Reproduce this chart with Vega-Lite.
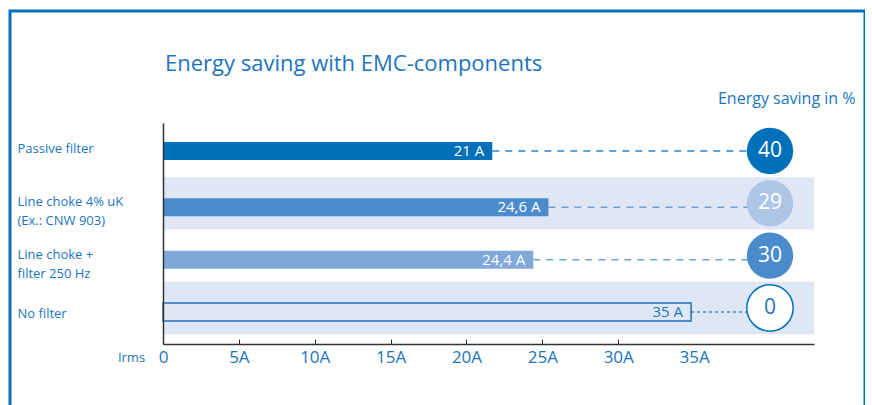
{
  "$schema": "https://vega.github.io/schema/vega-lite/v6.json",
  "width": 855,
  "height": 400,
  "autosize": {"type": "none"},
  "padding": {"left": 10, "top": 11, "right": 0, "bottom": 0},
  "background": "#ffffff",
  "config": {
    "font": "Open Sans",
    "view": {"stroke": "#0070BA", "strokeWidth": 3}
  },
  "title": {
    "text": "Energy saving with EMC-components",
    "anchor": "start",
    "frame": "group",
    "dx": 155,
    "dy": 75,
    "offset": 0,
    "baseline": "middle",
    "fontSize": 22,
    "fontWeight": "normal",
    "color": "#1C75BC"
  },
  "data": {
    "values": [
      {"row": "Passive filter", "irms": 21.7, "label": "21 A", "saving": 40},
      {"row": "Line choke 4% uK\n(Ex.: CNW 903)", "irms": 25.4, "label": "24,6 A", "saving": 29},
      {"row": "Line choke +\nfilter 250 Hz", "irms": 24.4, "label": "24,4 A", "saving": 30},
      {"row": "No filter", "irms": 34.8, "label": "35 A", "saving": 0}
    ]
  },
  "encoding": {
    "y": {
      "field": "row",
      "type": "nominal",
      "sort": null,
      "scale": {
        "domain": ["Passive filter", "Line choke 4% uK\n(Ex.: CNW 903)", "Line choke +\nfilter 250 Hz", "No filter"],
        "range": [112, 333],
        "paddingInner": 0,
        "paddingOuter": 0.1116,
        "align": 0.155
      },
      "axis": {
        "orient": "left",
        "offset": -153,
        "domainColor": "#333333",
        "domainWidth": 1.5,
        "ticks": false,
        "tickSize": 0,
        "labelAlign": "left",
        "labelBaseline": "middle",
        "labelPadding": 146,
        "labelExpr": "split(datum.label, '\\n')",
        "labelLineHeight": 19,
        "labelFontSize": 13,
        "labelColor": "#1C75BC",
        "labelLimit": 300,
        "labelOffset": {"condition": [
          {"test": "datum.value === 'Passive filter'", "value": -2},
          {"test": "datum.value === 'No filter'", "value": 6}
        ], "value": -1},
        "title": "Energy saving in %",
        "titleAngle": 0,
        "titleAlign": "right",
        "titleBaseline": "middle",
        "titleX": 692,
        "titleY": 87,
        "titleFontSize": 16,
        "titleFontWeight": "normal",
        "titleColor": "#1C75BC"
      }
    },
    "x": {
      "field": "irms",
      "type": "quantitative",
      "scale": {"domain": [0, 42.9], "range": [153, 804], "nice": false, "zero": true},
      "axis": {
        "orient": "bottom",
        "offset": -67,
        "grid": false,
        "values": [0, 5, 10, 15, 20, 25, 30, 35],
        "labelExpr": "datum.value == 0 ? '0' : datum.value + 'A'",
        "labelFlush": false,
        "domainColor": "#333333",
        "domainWidth": 1.5,
        "tickColor": "#333333",
        "tickSize": -5,
        "tickWidth": 1,
        "tickOpacity": {"condition": {"test": "datum.value == 0 || datum.value == 35", "value": 0}, "value": 1},
        "labelFontSize": 17,
        "labelColor": "#1C75BC",
        "labelPadding": 10,
        "labelBaseline": "top",
        "title": "Irms",
        "titleX": 121,
        "titleY": 13,
        "titleAlign": "center",
        "titleBaseline": "middle",
        "titleFontSize": 13,
        "titleFontWeight": "normal",
        "titleColor": "#1C75BC"
      }
    }
  },
  "layer": [
    {
      "transform": [{"filter": {"field": "row", "oneOf": ["Line choke 4% uK\n(Ex.: CNW 903)", "No filter"]}}],
      "mark": {"type": "rect", "color": "#E0E7F4"},
      "encoding": {
        "x": {"datum": 0, "type": "quantitative"},
        "x2": {"datum": 42.9}
      }
    },
    {
      "mark": {"type": "bar", "size": 18, "strokeWidth": 1.5, "yOffset": {"expr": "datum.row === 'Passive filter' ? 0 : 4"}},
      "encoding": {
        "fill": {"field": "row", "type": "nominal", "legend": null,
          "scale": {"domain": ["Passive filter", "Line choke 4% uK\n(Ex.: CNW 903)", "Line choke +\nfilter 250 Hz", "No filter"],
                    "range": ["#0070BA", "#4A8CCB", "#80A9DA", "#E0E7F4"]}},
        "stroke": {"condition": {"test": "datum.row === 'No filter'", "value": "#1F72BD"}, "value": null}
      }
    },
    {
      "mark": {"type": "rule", "strokeWidth": 1.5, "yOffset": {"expr": "datum.row === 'Passive filter' ? 0 : 4"}},
      "encoding": {
        "x2": {"datum": 40},
        "stroke": {"field": "row", "type": "nominal", "legend": null,
          "scale": {"domain": ["Passive filter", "Line choke 4% uK\n(Ex.: CNW 903)", "Line choke +\nfilter 250 Hz", "No filter"],
                    "range": ["#2C85CF", "#6EA1D9", "#6EA1D9", "#3F89CA"]}},
        "strokeDash": {"condition": {"test": "datum.row === 'No filter'", "value": [3, 3]}, "value": [7, 6]}
      }
    },
    {
      "mark": {"type": "text", "align": "right", "baseline": "middle", "dx": -8, "fontSize": 15, "yOffset": {"expr": "datum.row === 'Passive filter' ? 0 : 4"}},
      "encoding": {
        "text": {"field": "label"},
        "color": {"condition": {"test": "datum.row === 'No filter'", "value": "#1F72BD"}, "value": "#ffffff"}
      }
    },
    {
      "mark": {"type": "point", "shape": "circle", "size": 2150, "filled": true, "opacity": 1, "strokeWidth": 1.5},
      "encoding": {
        "x": {"datum": 40, "type": "quantitative"},
        "fill": {"field": "row", "type": "nominal", "legend": null,
          "scale": {"domain": ["Passive filter", "Line choke 4% uK\n(Ex.: CNW 903)", "Line choke +\nfilter 250 Hz", "No filter"],
                    "range": ["#0070BA", "#AEC5E7", "#4A8CCB", "#FFFFFF"]}},
        "stroke": {"condition": {"test": "datum.row === 'No filter'", "value": "#0070BA"}, "value": null}
      }
    },
    {
      "mark": {"type": "text", "align": "center", "baseline": "middle", "fontSize": 21},
      "encoding": {
        "x": {"datum": 40, "type": "quantitative"},
        "text": {"field": "saving", "type": "quantitative"},
        "color": {"condition": {"test": "datum.row === 'No filter'", "value": "#1F72BD"}, "value": "#ffffff"}
      }
    }
  ],
  "resolve": {"scale": {"fill": "independent"}}
}
